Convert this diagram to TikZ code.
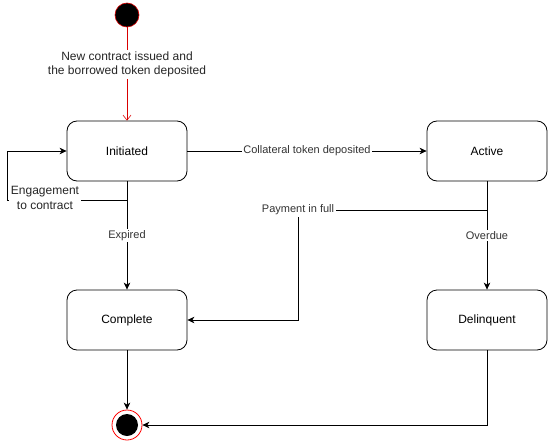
\documentclass[tikz,border=0pt]{standalone}
\usepackage{fontspec}
\setmainfont{Liberation Sans}
\usetikzlibrary{arrows.meta, positioning}
\tikzset{
    state/.style={draw, rounded corners=10pt, minimum width=120pt, minimum height=60pt,
        line width=0.8pt, font=\fontsize{12}{14}\selectfont},
    trans/.style={line width=0.8pt, -{Stealth[length=7pt, width=6.5pt, inset=2pt]}},
    lbl/.style={fill=white, inner sep=1.5pt, text=black!80, font=\fontsize{11}{13}\selectfont},
    biglbl/.style={fill=white, inner sep=1.5pt, text=black!85, align=center,
        font=\fontsize{12}{14.5}\selectfont},
}
\begin{document}
\begin{tikzpicture}[x=1pt, y=-1pt]
    \useasboundingbox (0,0) rectangle (548,441);
    \tikzstyle{every node}=[];
    % states
    \node[state] (init) at (127,151) {Initiated};
    \node[state] (active) at (487,151) {Active};
    \node[state] (complete) at (127,320) {Complete};
    \node[state] (delinq) at (487,320) {Delinquent};
    % start and end
    \node[circle, fill=black, draw=red!85!black, line width=0.6pt, minimum size=24pt, inner sep=0pt] (start) at (127,15) {};
    \node[circle, fill=white, draw=red, line width=0.8pt, minimum size=30pt, inner sep=0pt] (stop) at (127,425) {};
    \node[circle, fill=black, minimum size=22pt, inner sep=0pt] (stopdot) at (stop) {};
    \coordinate (loopcorner) at (7,200);
    \coordinate (paybend) at (298,210);
    % transitions
    \draw[red!85!black, line width=0.6pt, -{Straight Barb[length=5pt, width=8pt]}] (start) -- node[biglbl, pos=0.4, text=black!85]{New contract issued and\\the borrowed token deposited} (init);
    \draw[trans] (init.south) |- (loopcorner) |- (init.west);
    \node[biglbl] (engage) at (45,198) {Engagement\\to contract};
    \draw[trans] (init) -- node[lbl]{Collateral token deposited} (active);
    \draw[trans] (init) -- node[lbl]{Expired} (complete);
    \draw[trans] (active) -- node[lbl]{Overdue} (delinq);
    \draw[trans] (active.south) |- (paybend) |- (complete.east);
    \node[lbl] (payfull) at (paybend) {Payment in full};
    \draw[trans] (complete) -- (stop);
    \draw[trans] (delinq.south) |- (stop.east);
\end{tikzpicture}
\end{document}
